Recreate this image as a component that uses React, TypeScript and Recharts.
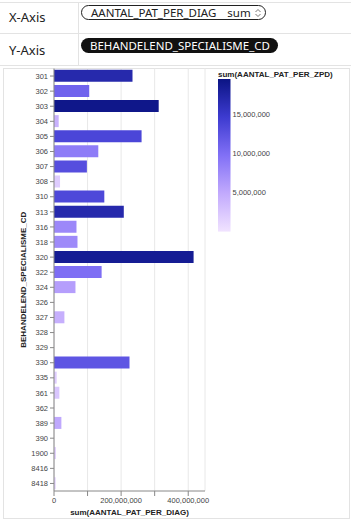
import { BarChart, Bar, XAxis, YAxis, CartesianGrid, Cell, Label } from "recharts";

const codes = [
  "301", "302", "303", "304", "305", "306", "307", "308", "310", "313",
  "316", "318", "320", "322", "324", "326", "327", "328", "329", "330",
  "335", "361", "362", "389", "390", "1900", "8416", "8418",
];
const patPerDiag = [
  234e6, 105e6, 312e6, 14e6, 261e6, 132e6, 98e6, 18e6, 150e6, 208e6,
  67e6, 70e6, 416e6, 142e6, 64e6, 1e6, 31e6, 0.6e6, 0.5e6, 225e6,
  8e6, 16e6, 1e6, 22e6, 0.5e6, 6e6, 0.4e6, 5e6,
];
const patPerZpd = [
  17e6, 11e6, 19.2e6, 4.3e6, 13.7e6, 8.8e6, 12.9e6, 2e6, 13.5e6, 17e6,
  7.8e6, 7.6e6, 18.6e6, 10e6, 5.9e6, 0.3e6, 4.5e6, 0.3e6, 0.2e6, 12.3e6,
  2e6, 2.5e6, 0.3e6, 5.1e6, 0.2e6, 1.5e6, 0.2e6, 1.5e6,
];
const xTicks = [0, 100e6, 200e6, 300e6, 400e6];
const legendTicks = [5e6, 10e6, 15e6];

const zpdMax = 19.6e6;
const stops: [number, string][] = [
  [0, "#f1e3ff"],
  [0.25, "#c2aafd"],
  [0.5, "#8170f6"],
  [0.75, "#3d3bd0"],
  [1, "#0b1484"],
];

function hex(c: string) {
  return [1, 3, 5].map((i) => parseInt(c.slice(i, i + 2), 16));
}

function colorFor(v: number) {
  const t = Math.max(0, Math.min(1, v / zpdMax));
  for (let i = 1; i < stops.length; i++) {
    if (t <= stops[i][0]) {
      const [t0, c0] = stops[i - 1];
      const [t1, c1] = stops[i];
      const f = (t - t0) / (t1 - t0);
      const a = hex(c0);
      const b = hex(c1);
      const m = a.map((x, k) => Math.round(x + (b[k] - x) * f));
      return `rgb(${m[0]},${m[1]},${m[2]})`;
    }
  }
  return stops[stops.length - 1][1];
}

const data = codes.map((code, i) => ({
  code,
  diag: patPerDiag[i],
  zpd: patPerZpd[i],
}));

const chartFont = "'Liberation Sans', Arial, sans-serif";
const uiFont = "'Noto Sans', 'Open Sans', sans-serif";
const line = "#e3e3e3";

function Legend() {
  const top = 79;
  const bottom = 231.6;
  const y = (v: number) => bottom - (v / zpdMax) * (bottom - top);
  return (
    <svg width={140} height={180} style={{ position: "absolute", left: 214, top: 62 }}>
      <defs>
        <linearGradient id="zpd" x1="0" y1="1" x2="0" y2="0">
          {stops.map(([t, c]) => (
            <stop key={t} offset={t} stopColor={c} />
          ))}
        </linearGradient>
      </defs>
      <text x={4} y={15} fontSize={8} fontWeight="bold" fontFamily={chartFont} fill="#222">
        sum(AANTAL_PAT_PER_ZPD)
      </text>
      <rect x={4} y={top - 62} width={12.5} height={bottom - top} fill="url(#zpd)" />
      {legendTicks.map((v) => (
        <text key={v} x={18.5} y={y(v) - 62} dy="0.35em" fontSize={7.5} fontFamily={chartFont} fill="#444">
          {v.toLocaleString("en-US")}
        </text>
      ))}
    </svg>
  );
}

export default function App() {
  return (
    <div style={{ position: "absolute", left: 0, top: 0, width: 351, height: 521, background: "#fff", overflow: "hidden" }}>
      {/* header rows */}
      <div style={{ position: "absolute", left: 0, top: 2, width: 351, height: 0, borderTop: `1px solid ${line}` }} />
      <div style={{ position: "absolute", left: 0, top: 33, width: 351, height: 0, borderTop: `1px solid ${line}` }} />
      <div style={{ position: "absolute", left: 0, top: 65, width: 351, height: 0, borderTop: `1px solid ${line}` }} />
      <div style={{ position: "absolute", left: 78, top: 2, width: 0, height: 63, borderLeft: `1px solid ${line}` }} />
      <div style={{ position: "absolute", left: 9, top: 8, fontFamily: uiFont, fontSize: 13, color: "#222" }}>X-Axis</div>
      <div style={{ position: "absolute", left: 9, top: 41, fontFamily: uiFont, fontSize: 13, color: "#222" }}>Y-Axis</div>
      <div
        style={{
          position: "absolute", left: 81, top: 5, width: 174, height: 13, border: "1.5px solid #222",
          borderRadius: 8, fontFamily: uiFont, fontSize: 11.5, lineHeight: "13px", color: "#222",
          paddingLeft: 9, boxSizing: "content-box", display: "flex", alignItems: "center", overflow: "hidden",
        }}
      >
        <span>AANTAL_PAT_PER_DIAG</span>
        <span style={{ marginLeft: 11 }}>sum</span>
        <svg width={8} height={10} style={{ marginLeft: 3 }}>
          <path d="M1.5 4 L4 1.5 L6.5 4 M1.5 6 L4 8.5 L6.5 6" stroke="#666" strokeWidth={0.9} fill="none" />
        </svg>
      </div>
      <div
        style={{
          position: "absolute", left: 81, top: 38, width: 188, height: 15, background: "#111",
          borderRadius: 8, fontFamily: uiFont, fontSize: 11.5, lineHeight: "15px", color: "#fff",
          paddingLeft: 9, overflow: "hidden",
        }}
      >
        BEHANDELEND_SPECIALISME_CD
      </div>

      {/* chart frame */}
      <div style={{ position: "absolute", left: 3, top: 68, width: 345, height: 449, border: `1px solid ${line}` }} />

      <div style={{ position: "absolute", left: 0, top: 60 }}>
        <BarChart
          width={215}
          height={461}
          data={data}
          layout="vertical"
          margin={{ top: 8.5, right: 10, left: 0, bottom: 0 }}
          barCategoryGap="9%"
        >
          <CartesianGrid horizontal={false} stroke="#e8e8e8" />
          <XAxis
            type="number"
            dataKey="diag"
            domain={[0, 450e6]}
            ticks={xTicks}
            interval={0}
            height={30}
            tickSize={5}
            stroke="#888"
            tick={{ fontSize: 7.5, fill: "#444", fontFamily: chartFont }}
            tickFormatter={(v: number) => (v % 200e6 === 0 ? v.toLocaleString("en-US") : "")}
          >
            <Label
              value="sum(AANTAL_PAT_PER_DIAG)"
              position="insideBottom"
              offset={6}
              style={{ fontSize: 8, fontWeight: "bold", fill: "#222", fontFamily: chartFont }}
            />
          </XAxis>
          <YAxis
            type="category"
            dataKey="code"
            width={54}
            interval={0}
            tickSize={4}
            stroke="#888"
            tick={{ fontSize: 7.5, fill: "#444", fontFamily: chartFont }}
          >
            <Label
              content={(props: any) => {
                const vb = props.viewBox || {};
                const cy = (vb.y ?? 0) + (vb.height ?? 0) / 2;
                return (
                  <text
                    x={23}
                    y={cy}
                    transform={`rotate(-90, 23, ${cy})`}
                    textAnchor="middle"
                    dominantBaseline="central"
                    fontSize={8}
                    fontWeight="bold"
                    fontFamily={chartFont}
                    fill="#222"
                  >
                    BEHANDELEND_SPECIALISME_CD
                  </text>
                );
              }}
            />
          </YAxis>
          <Bar dataKey="diag" isAnimationActive={false}>
            {data.map((d) => (
              <Cell key={d.code} fill={colorFor(d.zpd)} />
            ))}
          </Bar>
        </BarChart>
      </div>

      <Legend />
    </div>
  );
}
